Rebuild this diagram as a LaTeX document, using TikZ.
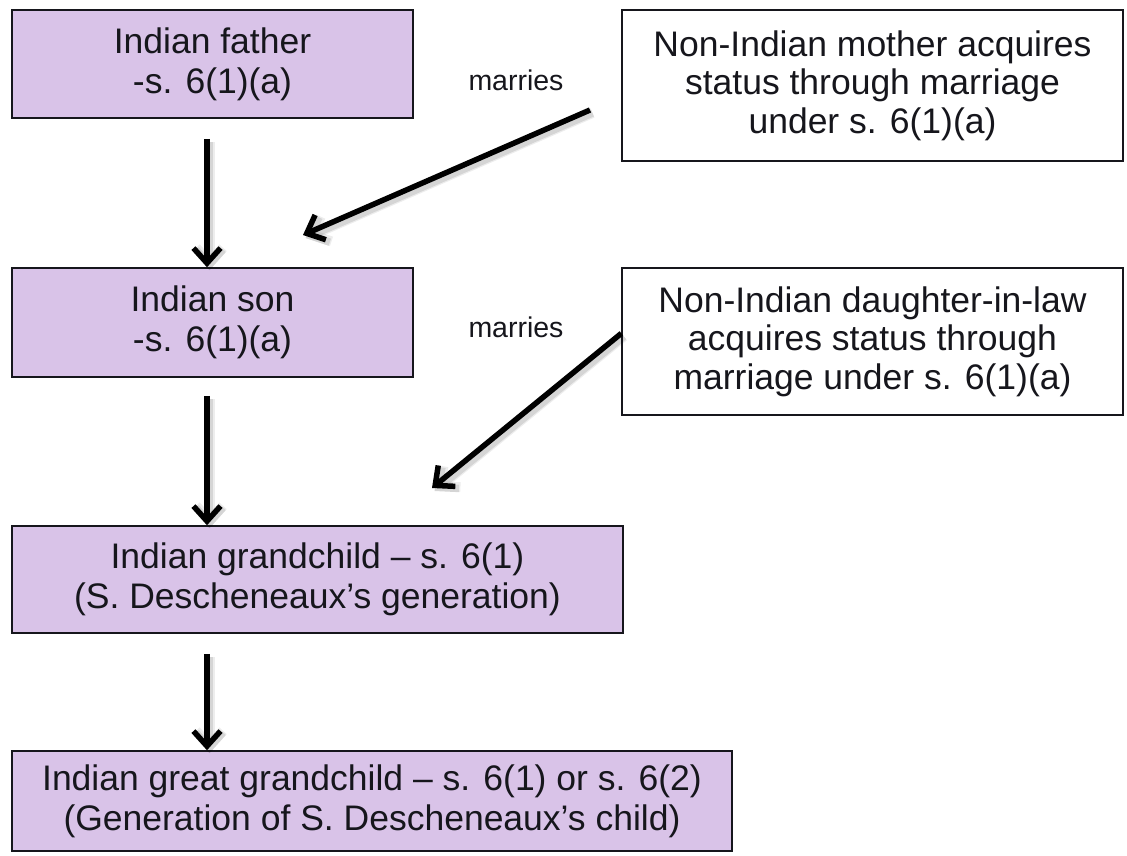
\documentclass[tikz,border=0pt]{standalone}
\usepackage{fontspec}
\setmainfont{Liberation Sans}
\usetikzlibrary{arrows.meta,calc}
\definecolor{lav}{RGB}{217,195,232}
\definecolor{ink}{RGB}{22,22,28}
\begin{document}
\begin{tikzpicture}[x=1pt,y=-1pt,
  gen/.style={draw=ink, line width=1.6pt, fill=lav, inner sep=0pt, align=center,
    text=ink, font=\fontsize{35.5}{40}\selectfont},
  spouse/.style={draw=ink, line width=1.3pt, fill=white, inner sep=0pt, align=center,
    text=ink, font=\fontsize{35.5}{38.5}\selectfont},
  lbl/.style={inner sep=0pt, text=ink, font=\fontsize{28.5}{32}\selectfont},
  tip/.style={-{Straight Barb[length=15pt,width=27pt]}},
  % soft grey shadow under each arrow
  halo/.style={draw=black, opacity=#1, transform canvas={shift={(2.5pt,-3pt)}}},
  arr/.style={draw=black, line width=5.5pt, tip,
    preaction={halo=0.07, line width=10pt},
    preaction={halo=0.10, line width=7.5pt}}
]
\useasboundingbox (0,0) rectangle (1127,856);

% lineage boxes
\node[gen, minimum width=401pt, minimum height=108pt] (father) at (212.5,64)
  {Indian father\\-s. 6(1)(a)};
\node[gen, minimum width=401pt, minimum height=109pt] (son) at (212.5,322.5)
  {Indian son\\-s. 6(1)(a)};
\node[gen, minimum width=611pt, minimum height=107pt] (grand) at (317.5,579.5)
  {Indian grandchild – s. 6(1)\\(S. Descheneaux’s generation)};
\node[gen, minimum width=720pt, minimum height=100pt] (great) at (372,801)
  {Indian great grandchild – s. 6(1) or s. 6(2)\\(Generation of S. Descheneaux’s child)};

% spouse boxes
\node[spouse, minimum width=501pt, minimum height=151pt] (mother) at (872.5,85.5)
  {Non-Indian mother acquires\\status through marriage\\under s. 6(1)(a)};
\node[spouse, minimum width=501pt, minimum height=147pt] (dil) at (872.5,341.5)
  {Non-Indian daughter-in-law\\acquires status through\\marriage under s. 6(1)(a)};

% labels
\node[lbl] (m1) at (516,80) {marries};
\node[lbl] (m2) at (516,327) {marries};

% descent arrows
\coordinate (ax) at (207,0);
\draw[arr] ($(father.south -| ax)+(0,20)$) -- (son.north -| ax);
\draw[arr] ($(son.south -| ax)+(0,18)$) -- (grand.north -| ax);
\draw[arr] ($(grand.south -| ax)+(0,20)$) -- (great.north -| ax);

% marriage arrows
\coordinate (w1s) at (590,110);
\coordinate (w1t) at (303,235);
\draw[arr] (w1s) -- (w1t);
\coordinate (w2t) at (432,488);
\draw[arr] ($(dil.north west)+(0,66)$) -- (w2t);
\end{tikzpicture}
\end{document}
